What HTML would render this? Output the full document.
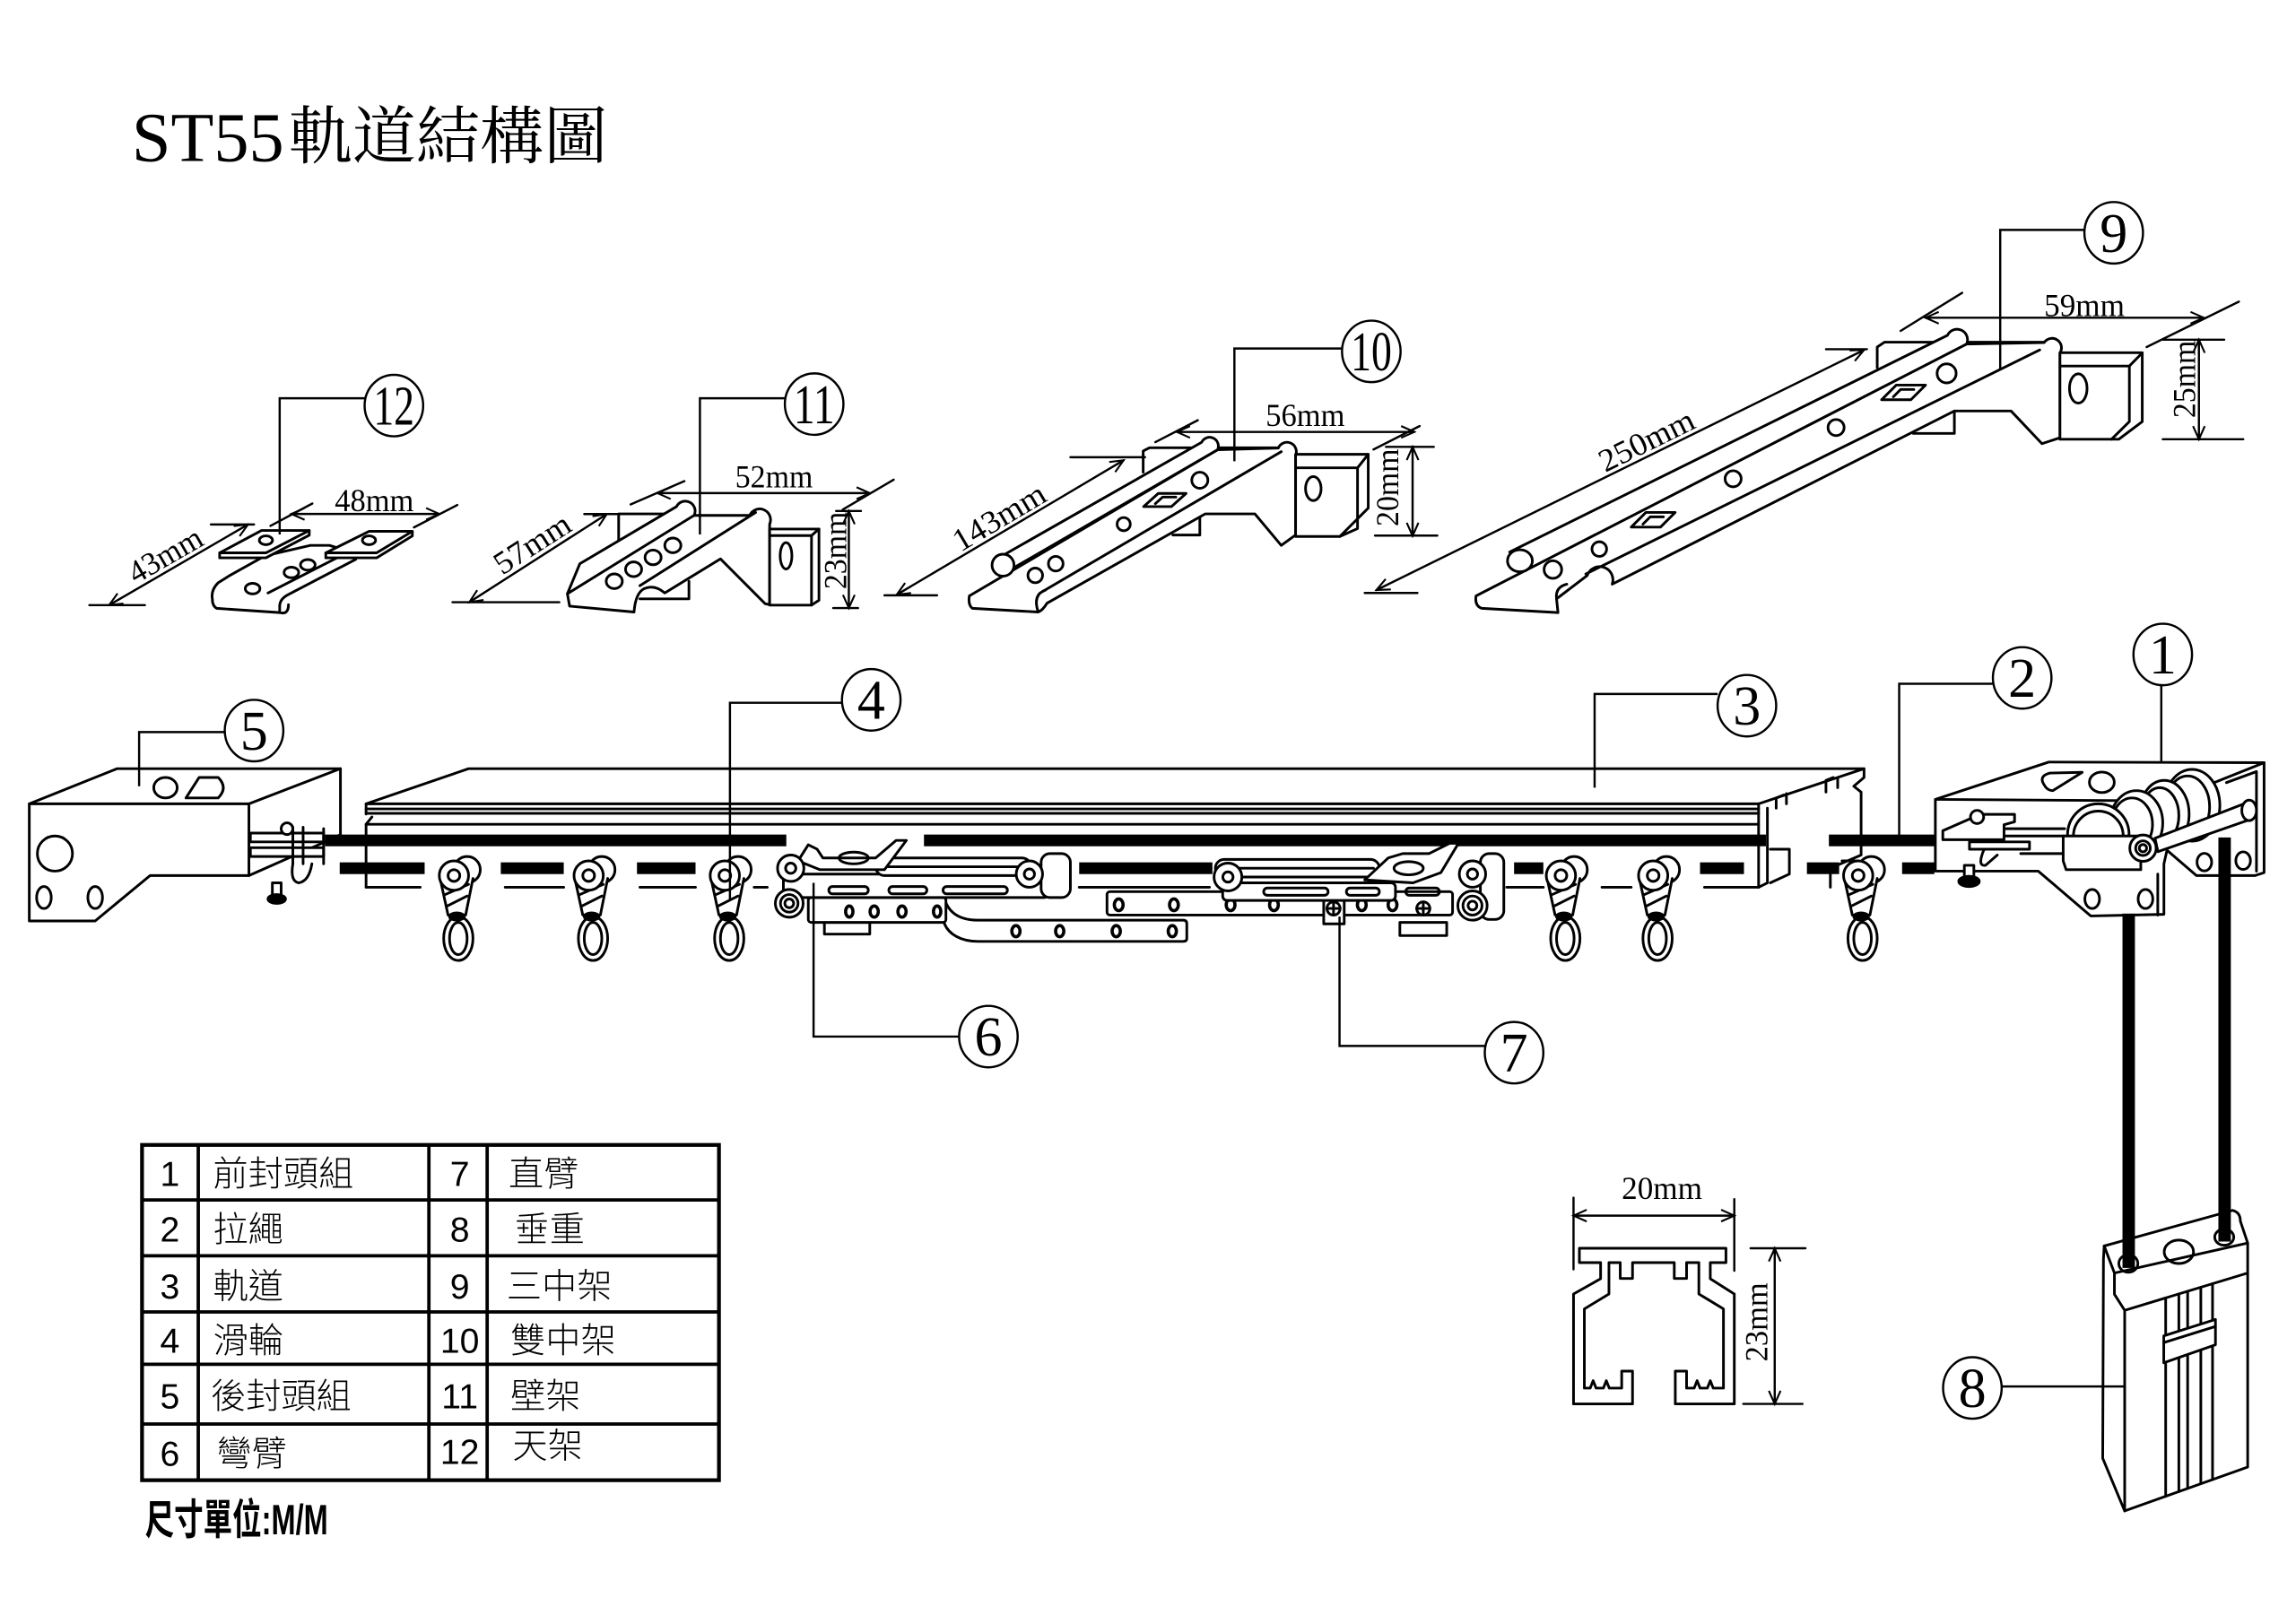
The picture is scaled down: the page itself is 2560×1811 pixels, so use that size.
<!DOCTYPE html>
<html><head><meta charset="utf-8"><title>ST55軌道結構圖</title>
<style>html,body{margin:0;padding:0;background:#fff}svg{display:block}</style>
</head><body>
<svg xmlns="http://www.w3.org/2000/svg" width="2560" height="1811" viewBox="0 0 1568 1109.2">
<defs>
<marker id="a" markerWidth="12" markerHeight="10" refX="10" refY="5" orient="auto-start-reverse" markerUnits="userSpaceOnUse"><path d="M1,1 L10,5 L1,9" fill="none" stroke="#000" stroke-width="1.3"/></marker>
</defs>
<rect width="1568" height="1109.2" fill="#fff"/>

<!-- Title -->
<g font-family="'Liberation Serif','Noto Serif CJK SC',serif" fill="#000">
<text x="90" y="110" font-size="48">ST55</text>
<text x="197" y="108" font-size="43" textLength="218" lengthAdjust="spacingAndGlyphs">軌道結構圖</text>
</g>

<g fill="none" stroke="#000" stroke-width="1.8" stroke-linejoin="round" stroke-linecap="round">

<!-- ===== Bracket 12 ===== -->
<path d="M145,409 Q144,403 149,398 L157,393 L181,379.6 L212,372.5 L225,372.5 L243,378 L243,382 L197,406 Q191,409 191,414 L191,418.4 L148,415.5 Q145,414 145,409 Z" fill="#fff"/>
<path d="M183,405 L238,377"/>
<path d="M191,418.4 Q197,420 197,413"/>
<ellipse cx="172.5" cy="402" rx="5" ry="3.6"/>
<ellipse cx="199" cy="391" rx="5" ry="3.6"/>
<ellipse cx="210.2" cy="385.8" rx="5" ry="3.6"/>
<path d="M150,377.6 L178.6,362.3 L211.2,362.3 L211.2,365.5 L181.6,381 L150,381 Z" fill="#fff"/>
<path d="M150,377.6 H181.6 L211.2,362.3"/>
<path d="M222.5,377.6 L252,362.9 L281.6,362.9 L281.6,366 L257.2,381 L222.5,381 Z" fill="#fff"/>
<path d="M222.5,377.6 H257.2 L281.6,362.9"/>
<ellipse cx="181.6" cy="369" rx="4.5" ry="3"/>
<ellipse cx="252" cy="369" rx="4.5" ry="3"/>

<!-- ===== Bracket 11 ===== -->
<path d="M422.5,369 V351 H457"/>
<path d="M437,409 H470.5 V397"/>
<path d="M396,385 L462,346 A6,6 0 0 1 474,352 L512,352 A6,6 0 0 1 525.6,358 V413 L522.5,412.3 L492,381.7 L454,405 Q447,399 440,402 Q434,405 433,418 L389,414 L387.5,405.5 Z" fill="#fff"/>
<path d="M387.5,405.5 L474,352"/>
<path d="M437,400 L516,350"/>
<ellipse cx="419.5" cy="397" rx="5.5" ry="5"/>
<ellipse cx="432.7" cy="388.8" rx="5.5" ry="5"/>
<ellipse cx="446" cy="380.7" rx="5.5" ry="5"/>
<ellipse cx="459.5" cy="372.5" rx="5.5" ry="5"/>
<path d="M525.6,361.3 H559.3 V410 L554.2,413.3 H525.6 Z" fill="#fff"/>
<path d="M525.6,365.8 H554.2 L559.3,361.3 M554.2,365.8 V413.3"/>
<ellipse cx="536.8" cy="379.6" rx="4" ry="9"/>

<!-- ===== Bracket 10 ===== -->
<path d="M780.7,322.5 V308 L785,305.8 H873"/>
<path d="M801,365.4 H819.4 V352"/>
<path d="M662,407 L831.5,307.2 L873,306 A6,6 0 0 1 884.8,311 V365.4 L875,372.5 L857,351 L823,351 L715,412 Q712,417 709,418 L664,415.5 Q661,413 662,407 Z" fill="#fff"/>
<path d="M712,404 L875,308.5"/>
<path d="M709,418 Q705,406 714,403"/>
<circle cx="707" cy="393" r="5"/>
<circle cx="721" cy="385" r="5"/>
<circle cx="767.4" cy="358" r="4.5"/>
<circle cx="819.4" cy="328" r="5.5"/>
<path d="M781,346 L791,337 L810,337 L800,346 Z"/>
<path d="M789,344 L794,339.5 L803,339.5"/>
<path d="M679,382.7 L820.6,302.1 A6,6 0 0 1 831.5,307.2 L692.3,387.8 Z" fill="#fff"/>
<circle cx="685" cy="386" r="7.5" fill="#fff"/>
<path d="M884.8,310.3 H934.4 V347 L915,366.4 H884.8 Z" fill="#fff"/>
<path d="M884.8,319.5 H927.1 L934.4,310.3 M927.1,319.5 V361 L915,366.4"/>
<ellipse cx="896.9" cy="333.7" rx="5.3" ry="8.2"/>

<!-- ===== Bracket 9 ===== -->
<path d="M1282,251 V237 L1287,233.7 H1396"/>
<path d="M1306.6,283 V296 H1334.7 V281"/>
<path d="M1008,407 L1343,235 L1396,234 A6,6 0 0 1 1406.8,241 V299 L1394.5,303 L1373.4,280.7 L1334.7,280.7 L1101,399 A9,9 0 0 0 1084,393 L1063,409 L1064,418.4 L1012,415.5 Q1007,414 1008,407 Z" fill="#fff"/>
<path d="M1083,392 L1393,239"/>
<path d="M1063,409 Q1062,401 1070,399"/>
<circle cx="1060.5" cy="389" r="6"/>
<circle cx="1092.2" cy="375" r="5"/>
<circle cx="1183.6" cy="327" r="5.5"/>
<circle cx="1253.9" cy="292" r="5.5"/>
<circle cx="1329.4" cy="255" r="6.5"/>
<path d="M1114,360 L1124,350 L1144,350 L1134,360 Z"/>
<path d="M1122,358 L1127,353 L1136,353"/>
<path d="M1285,273 L1295,263 L1315,263 L1305,273 Z"/>
<path d="M1293,271 L1298,266 L1307,266"/>
<path d="M1031,377 L1330,229 A7,7 0 0 1 1343,235 L1045,388 Z" fill="#fff"/>
<ellipse cx="1038" cy="383" rx="8.5" ry="7.5" fill="#fff"/>
<path d="M1406.8,240.9 H1463 V288 L1447,300 H1406.8 Z" fill="#fff"/>
<path d="M1406.8,250 H1454.2 L1463,241 M1454.2,250 V288 L1442,300"/>
<ellipse cx="1419.3" cy="265.3" rx="6" ry="10"/>

<!-- ===== Left end cap 5 ===== -->
<path d="M20,549 L80,525 L232.5,525 L232.5,570 L222,575 L170,598 L102.5,598 L65,629 L20,629 Z" fill="#fff"/>
<path d="M20,549 H170 V598 M170,549 L232.5,525"/>
<ellipse cx="37.5" cy="583" rx="12" ry="12"/>
<ellipse cx="30" cy="613" rx="5" ry="7.5"/>
<ellipse cx="65" cy="613" rx="5" ry="7.5"/>
<ellipse cx="113" cy="538" rx="8" ry="7"/>
<path d="M127,545 L136,531 L149,531 Q156,538 149,545 Z"/>
<!-- clip -->
<rect x="171" y="569" width="50" height="6" fill="#fff"/>
<rect x="171" y="579" width="50" height="6" fill="#fff"/>
<path d="M200,565 V590 M207,565 V590 M221,566 V590"/>
<circle cx="196" cy="566" r="4" fill="#fff"/>
<path d="M200,590 Q198,602 204,603 Q211,602 213,590"/>
<rect x="186" y="603" width="6" height="9" fill="#fff"/>
<ellipse cx="189" cy="614" rx="6" ry="3" fill="#000"/>

<!-- ===== Rail 3 ===== -->
<path d="M250,549 L320,525 L1273,525 L1201,549 Z" fill="#fff"/>
<path d="M250,552.5 H1201 M250,555.5 H1201 M250,563 H1201"/>
<path d="M250,549 V556 M254,558 L250,563 V606 M1201,549 V606"/>
<path d="M250,606 H287 M345,606 H385 M437,606 H475 M515,606 H524 M737,606 H826 M1029,606 H1054 M1094,606 H1114 M1164,606 H1201"/>
<path d="M1273,525 V531 L1266,537 L1271,541 V584 L1250,593 V606 M1201,606 L1207,603 V552 M1209,580 H1222 V597 L1209,603 M1213,552 V545 L1218,543 M1220,549 V542 M1247,541 V533 L1252,531 M1255,538 V531 M1258,588 H1268"/>
</g>

<!-- cord bars -->
<g fill="#000">
<rect x="222" y="570" width="315" height="8"/>
<rect x="631" y="570" width="575" height="8"/>
<rect x="1249" y="570" width="72" height="8"/>
<rect x="232" y="589" width="58" height="8"/>
<rect x="342" y="589" width="43" height="8"/>
<rect x="435" y="589" width="40" height="8"/>
<rect x="737" y="589" width="91" height="8"/>
<rect x="1034" y="589" width="20" height="8"/>
<rect x="1161" y="589" width="30" height="8"/>
<rect x="1234" y="589" width="22" height="8"/>
<rect x="1299" y="589" width="22" height="8"/>
</g>

<g fill="none" stroke="#000" stroke-width="1.8" stroke-linejoin="round" stroke-linecap="round">
<!-- gliders -->
<g transform="translate(310,598)"><circle cx="9" cy="-4" r="9" fill="#fff"/><path d="M-9,4 L-4,27 L8,27 L13,2" fill="#fff"/><path d="M-6,13 L10,6 M-5,21 L9,14"/><ellipse cx="3" cy="43" rx="10" ry="15" fill="#fff"/><ellipse cx="3" cy="43" rx="6" ry="11"/><ellipse cx="2" cy="28" rx="5" ry="2.5" fill="#000"/><circle r="10" fill="#fff"/><circle r="4"/></g>
<g transform="translate(402,598)"><circle cx="9" cy="-4" r="9" fill="#fff"/><path d="M-9,4 L-4,27 L8,27 L13,2" fill="#fff"/><path d="M-6,13 L10,6 M-5,21 L9,14"/><ellipse cx="3" cy="43" rx="10" ry="15" fill="#fff"/><ellipse cx="3" cy="43" rx="6" ry="11"/><ellipse cx="2" cy="28" rx="5" ry="2.5" fill="#000"/><circle r="10" fill="#fff"/><circle r="4"/></g>
<g transform="translate(495,598)"><circle cx="9" cy="-4" r="9" fill="#fff"/><path d="M-9,4 L-4,27 L8,27 L13,2" fill="#fff"/><path d="M-6,13 L10,6 M-5,21 L9,14"/><ellipse cx="3" cy="43" rx="10" ry="15" fill="#fff"/><ellipse cx="3" cy="43" rx="6" ry="11"/><ellipse cx="2" cy="28" rx="5" ry="2.5" fill="#000"/><circle r="10" fill="#fff"/><circle r="4"/></g>
<g transform="translate(1066,598)"><circle cx="9" cy="-4" r="9" fill="#fff"/><path d="M-9,4 L-4,27 L8,27 L13,2" fill="#fff"/><path d="M-6,13 L10,6 M-5,21 L9,14"/><ellipse cx="3" cy="43" rx="10" ry="15" fill="#fff"/><ellipse cx="3" cy="43" rx="6" ry="11"/><ellipse cx="2" cy="28" rx="5" ry="2.5" fill="#000"/><circle r="10" fill="#fff"/><circle r="4"/></g>
<g transform="translate(1129,598)"><circle cx="9" cy="-4" r="9" fill="#fff"/><path d="M-9,4 L-4,27 L8,27 L13,2" fill="#fff"/><path d="M-6,13 L10,6 M-5,21 L9,14"/><ellipse cx="3" cy="43" rx="10" ry="15" fill="#fff"/><ellipse cx="3" cy="43" rx="6" ry="11"/><ellipse cx="2" cy="28" rx="5" ry="2.5" fill="#000"/><circle r="10" fill="#fff"/><circle r="4"/></g>
<g transform="translate(1269,598)"><circle cx="9" cy="-4" r="9" fill="#fff"/><path d="M-9,4 L-4,27 L8,27 L13,2" fill="#fff"/><path d="M-6,13 L10,6 M-5,21 L9,14"/><ellipse cx="3" cy="43" rx="10" ry="15" fill="#fff"/><ellipse cx="3" cy="43" rx="6" ry="11"/><ellipse cx="2" cy="28" rx="5" ry="2.5" fill="#000"/><circle r="10" fill="#fff"/><circle r="4"/></g>

<!-- ===== Bent arm 6 ===== -->
<rect x="563" y="630" width="31" height="8" fill="#fff"/>
<path d="M645,614 C648,624 656,628.5 668,628.5 L808,628.5 Q810.5,628.5 810.5,631 L810.5,641 Q810.5,643 808,643 L668,643 C656,643 648,638 645,631 Z" fill="#fff"/>
<ellipse cx="693.8" cy="636" rx="2.8" ry="3.8" stroke-width="2.2"/>
<ellipse cx="723.7" cy="636" rx="2.8" ry="3.8" stroke-width="2.2"/>
<ellipse cx="762.3" cy="636" rx="2.8" ry="3.8" stroke-width="2.2"/>
<ellipse cx="800.6" cy="636" rx="2.8" ry="3.8" stroke-width="2.2"/>
<rect x="552" y="613" width="94" height="17" rx="2" fill="#fff"/>
<ellipse cx="580" cy="622.6" rx="2.5" ry="3.8" stroke-width="2.2"/>
<ellipse cx="597" cy="622.6" rx="2.8" ry="3.8" stroke-width="2.2"/>
<ellipse cx="616" cy="622.6" rx="2.8" ry="3.8" stroke-width="2.2"/>
<ellipse cx="640" cy="622.6" rx="2.5" ry="3.8" stroke-width="2.2"/>
<rect x="535" y="597" width="181" height="16" rx="3" fill="#fff"/>
<rect x="566" y="605.5" width="27" height="5" rx="2.5"/>
<rect x="607" y="605.5" width="26" height="5" rx="2.5"/>
<rect x="644" y="605.5" width="44" height="5" rx="2.5"/>
<rect x="598" y="586" width="106" height="12" rx="6" fill="#fff"/>
<path d="M602,592 H700"/>
<rect x="711" y="583" width="20" height="30" rx="6" fill="#fff"/>
<circle cx="703" cy="597" r="9" fill="#fff"/><circle cx="703" cy="597" r="3.5"/>
<path d="M545,588 L552,577 L558,580 L562,586 L598,586 L612,574 L619,574 L604,594 L560,594 Z" fill="#fff"/>
<ellipse cx="583" cy="586" rx="10" ry="4"/>
<circle cx="540" cy="593" r="9" fill="#fff"/><circle cx="540" cy="593" r="3.5"/>
<circle cx="539" cy="617" r="9.5" fill="#fff"/><circle cx="539" cy="617" r="6"/><circle cx="539" cy="617" r="3"/>

<!-- ===== Straight arm 7 ===== -->
<rect x="956" y="630" width="32" height="9" fill="#fff"/>
<rect x="756" y="609" width="236" height="16" rx="2" fill="#fff"/>
<ellipse cx="764" cy="618" rx="3" ry="4" stroke-width="2.2"/>
<ellipse cx="801.7" cy="618" rx="3" ry="4" stroke-width="2.2"/>
<ellipse cx="840.4" cy="618" rx="3" ry="4" stroke-width="2.2"/>
<ellipse cx="870" cy="618" rx="3" ry="4" stroke-width="2.2"/>
<ellipse cx="930" cy="618" rx="3" ry="4" stroke-width="2.2"/>
<ellipse cx="951" cy="618" rx="3" ry="4" stroke-width="2.2"/>
<rect x="904" y="612" width="14" height="19" fill="#fff"/>
<circle cx="910.7" cy="620.5" r="4.5"/><path d="M906.2,620.5 H915.2 M910.7,616 V625"/>
<circle cx="972" cy="620.5" r="4.5"/><path d="M967.5,620.5 H976.5 M972,616 V625"/>
<rect x="835" y="603" width="118" height="12" rx="3" fill="#fff"/>
<rect x="863" y="606.5" width="44" height="5" rx="2.5"/>
<rect x="919.5" y="606.5" width="22.5" height="5" rx="2.5"/>
<rect x="960" y="606.5" width="23" height="5" rx="2.5"/>
<rect x="830" y="587" width="112" height="12" rx="6" fill="#fff"/>
<path d="M836,593 H938"/>
<circle cx="838.6" cy="599" r="9.5" fill="#fff"/><circle cx="838.6" cy="599" r="3.5"/>
<path d="M932,601 L948,586 L958,583 L976,583 L990,576 L996,576 L984,596 L965,603 Z" fill="#fff"/>
<ellipse cx="962" cy="593" rx="10" ry="4.5"/>
<rect x="1011" y="583" width="16" height="45" rx="6" fill="#fff"/>
<circle cx="1005.6" cy="597" r="9" fill="#fff"/><circle cx="1005.6" cy="597" r="3.5"/>
<circle cx="1005.6" cy="618.5" r="10" fill="#fff"/><circle cx="1005.6" cy="618.5" r="6.5"/><circle cx="1005.6" cy="618.5" r="3"/>

<!-- ===== Right end cap 1 ===== -->
<path d="M1321.7,546 L1399.2,520.5 L1546.2,520.9 V596 L1540,598 H1500 L1479.9,580.7 L1477.8,590 V624.5 L1427.8,625.6 L1392,595 H1321.7 Z" fill="#fff"/>
<path d="M1321.7,546 L1476,547 M1546.2,520.9 L1511.5,534.8 M1520.5,534.5 L1541,527 V595 M1473.6,597 V625"/>
<ellipse cx="1428.8" cy="614" rx="5" ry="6.5"/>
<ellipse cx="1465.2" cy="614" rx="5" ry="6.5"/>
<ellipse cx="1505.4" cy="588.8" rx="5" ry="6"/>
<ellipse cx="1531.9" cy="587.8" rx="5" ry="6"/>
<path d="M1396,536 Q1392,530 1400,528 L1422,527.5 L1402,540 Q1398,540 1396,536 Z"/>
<ellipse cx="1435.4" cy="534.3" rx="8.5" ry="7"/>
<!-- pulleys -->
<ellipse cx="1497" cy="550" rx="19" ry="24.5" fill="#fff"/><ellipse cx="1494" cy="551" rx="15" ry="21"/>
<ellipse cx="1478" cy="556" rx="17" ry="23" fill="#fff"/><ellipse cx="1475" cy="557" rx="13" ry="19"/>
<ellipse cx="1459" cy="562" rx="18" ry="22" fill="#fff"/><ellipse cx="1456" cy="563" rx="14" ry="18"/>
<ellipse cx="1433" cy="570" rx="21" ry="21" fill="#fff"/><ellipse cx="1433" cy="571" rx="17" ry="17"/>
<path d="M1409,571 H1462 V594 H1411 L1409,588 Z" fill="#fff"/>
<path d="M1471.7,572.5 L1535,548 L1538,559.3 L1473.7,581.7 Z" fill="#fff"/>
<ellipse cx="1536" cy="553.5" rx="5" ry="7" fill="#fff"/>
<circle cx="1463.5" cy="579.3" r="9" fill="#fff"/><circle cx="1463.5" cy="579.3" r="5"/><circle cx="1463.5" cy="579.3" r="2.5"/>
<!-- clip -->
<path d="M1326.8,567.4 L1352.3,556.2 H1375.8 V561.3 L1368.6,563.3 V573.5 H1326.8 Z" fill="#fff"/>
<circle cx="1350.2" cy="558" r="4.5" fill="#fff"/>
<path d="M1368.6,566 H1410 M1368.6,571 H1410"/>
<path d="M1345,575 H1386 V580 H1345 Z" fill="#fff"/>
<path d="M1380,583 H1409 M1355,580 Q1350,592 1356,591 L1364,584"/>
<rect x="1341.5" y="591" width="6.5" height="9" fill="#fff"/>
<ellipse cx="1344.7" cy="602" rx="7" ry="3.5" fill="#000"/>

<!-- ===== Weight 8 ===== -->
<path d="M1437,851 L1524.7,826.7 Q1530,828 1530,834 L1535,849 V1002 L1451,1032 L1436,996 L1436.5,860 Z" fill="#fff"/>
<path d="M1444,869.5 L1535,849 M1451,895 L1535,869.5 M1437,851 L1444,869.5 V884 L1451,895 M1451,895 V1032"/>
<path d="M1479,886.5 V1022 M1488,883.8 V1018.8 M1494,882 V1016.6 M1503,879.2 V1013.4 M1511,876.8 V1010.6"/>
<path d="M1477.7,912.4 L1513,901.2 V918.5 L1477.7,930.8 Z" fill="#fff"/>
<path d="M1477.7,917 L1513,906"/>
<ellipse cx="1453.5" cy="863" rx="6.5" ry="6"/>
<ellipse cx="1488" cy="855" rx="10" ry="8"/>
<ellipse cx="1519" cy="845" rx="6.5" ry="5.5"/>
</g>
<g fill="#000">
<rect x="1449.5" y="624" width="8.5" height="242"/>
<rect x="1515" y="572" width="8.5" height="276"/>
</g>

<!-- ===== Cross-section ===== -->
<g fill="none" stroke="#000" stroke-width="1.8" stroke-linejoin="round">
<path d="M1078.6,852.6 H1178.7 V862.4 H1168 V873.4 L1184.4,883.8 V958.9 H1144.1 V936.5 H1151.8 V948.1 H1157 L1159,943 L1161,948.1 H1166 L1168,943 L1170,948.1 H1177 V894 L1160.2,883.8 V862.4 H1151.8 V873.2 H1143.4 V862.4 H1114.9 V873.2 H1106.5 V862.4 H1098.8 V883.8 L1082,894 V948.1 H1086 L1088,943 L1090,948.1 H1095 L1097,943 L1099,948.1 H1107.5 V936.5 H1114.9 V958.9 H1074.6 V883.8 L1093.1,873.4 V862.4 H1078.6 Z"/>
</g>

<!-- ===== Dimensions ===== -->
<g fill="none" stroke="#000" stroke-width="1.5" stroke-linecap="round">
<line x1="74.5" y1="413.3" x2="169.4" y2="358.2" marker-start="url(#a)" marker-end="url(#a)"/>
<path d="M61,413.3 H99 M144,358.2 H173.5"/>
<line x1="199" y1="351" x2="300" y2="351" marker-start="url(#a)" marker-end="url(#a)"/>
<path d="M184.7,359.2 L213.3,343.9 M282.7,360.2 L312.3,344.9"/>
<line x1="320.5" y1="411.3" x2="414.4" y2="351.1" marker-start="url(#a)" marker-end="url(#a)"/>
<path d="M309,411.3 H382 M399,351.1 H421.5"/>
<line x1="449" y1="336.8" x2="594" y2="336.8" marker-start="url(#a)" marker-end="url(#a)"/>
<path d="M430.7,344.5 L467.4,328.6 M575.6,348 L610.3,327.6"/>
<line x1="579.7" y1="349" x2="579.7" y2="415.3" marker-start="url(#a)" marker-end="url(#a)"/>
<path d="M571,349 H588 M569,415.3 H586"/>
<line x1="612.4" y1="406.2" x2="767.3" y2="314.4" marker-start="url(#a)" marker-end="url(#a)"/>
<path d="M604,406.6 H640 M731,312.3 H782"/>
<line x1="803.7" y1="295" x2="965.9" y2="295" marker-start="url(#a)" marker-end="url(#a)"/>
<path d="M789,302 L818,287 M938,307 L969.5,291"/>
<line x1="964.7" y1="305.2" x2="964.7" y2="366" marker-start="url(#a)" marker-end="url(#a)"/>
<path d="M946.5,305.2 H979.2 M939,365.8 H981.6"/>
<line x1="940" y1="403" x2="1273" y2="239" marker-start="url(#a)" marker-end="url(#a)"/>
<path d="M932,405 H968 M1247,238.5 H1275"/>
<line x1="1315" y1="217" x2="1505" y2="217" marker-start="url(#a)" marker-end="url(#a)"/>
<path d="M1298,226 L1340,200 M1466,237 L1529,206"/>
<line x1="1501.7" y1="232" x2="1501.7" y2="300" marker-start="url(#a)" marker-end="url(#a)"/>
<path d="M1477,232 H1519 M1477,300 H1532"/>
<line x1="1074.6" y1="830.3" x2="1184.4" y2="830.3" marker-start="url(#a)" marker-end="url(#a)"/>
<path d="M1074.6,818 V867 M1184.4,819 V868"/>
<line x1="1212" y1="852.6" x2="1212" y2="958.9" marker-start="url(#a)" marker-end="url(#a)"/>
<path d="M1195.5,852.6 H1233 M1190.5,958.9 H1231"/>
</g>

<g font-family="'Liberation Serif',serif" font-size="22" fill="#000" text-anchor="middle">
<text x="255.6" y="349" textLength="54" lengthAdjust="spacingAndGlyphs">48mm</text>
<text transform="translate(118,388) rotate(-30)" y="-3" textLength="55" lengthAdjust="spacingAndGlyphs">43mm</text>
<text x="528.6" y="333" textLength="53" lengthAdjust="spacingAndGlyphs">52mm</text>
<text transform="translate(369,380) rotate(-32.7)" y="-3" textLength="58" lengthAdjust="spacingAndGlyphs">57mm</text>
<text transform="translate(578,376) rotate(-90)" textLength="53" lengthAdjust="spacingAndGlyphs">23mm</text>
<text x="891.4" y="291" textLength="54" lengthAdjust="spacingAndGlyphs">56mm</text>
<text transform="translate(687.5,362) rotate(-30.7)" y="-3" textLength="70" lengthAdjust="spacingAndGlyphs">143mm</text>
<text transform="translate(955,333) rotate(-90)" textLength="53" lengthAdjust="spacingAndGlyphs">20mm</text>
<text x="1423.5" y="216" textLength="55" lengthAdjust="spacingAndGlyphs">59mm</text>
<text transform="translate(1129,310) rotate(-26.3)" y="-3" textLength="70" lengthAdjust="spacingAndGlyphs">250mm</text>
<text transform="translate(1499,259) rotate(-90)" textLength="53" lengthAdjust="spacingAndGlyphs">25mm</text>
<text x="1135" y="819" textLength="55" lengthAdjust="spacingAndGlyphs">20mm</text>
<text transform="translate(1207,903) rotate(-90)" textLength="54" lengthAdjust="spacingAndGlyphs">23mm</text>
</g>

<!-- ===== Leaders ===== -->
<g fill="none" stroke="#000" stroke-width="1.5">
<polyline points="249,272 191,272 191,365"/>
<polyline points="536,272 478,272 478,365"/>
<polyline points="916,238 843,238 843,315"/>
<polyline points="1423,157 1366,157 1366,252"/>
<polyline points="153,500 95,500 95,537"/>
<polyline points="575,480 498.5,480 498.5,615"/>
<polyline points="1173,474 1089,474 1089,538"/>
<polyline points="1361,467 1297,467 1297,572"/>
<line x1="1476" y1="468" x2="1476" y2="521"/>
<polyline points="555.6,603 555.6,708 655,708"/>
<polyline points="914.8,626 914.8,714.4 1014,714.4"/>
<line x1="1367" y1="947" x2="1451" y2="947"/>
</g>
<g fill="#fff" stroke="#000" stroke-width="1.5">
<ellipse cx="1477" cy="447" rx="20" ry="21"/>
<ellipse cx="1381" cy="463" rx="20" ry="21"/>
<ellipse cx="1193" cy="482" rx="20" ry="21"/>
<ellipse cx="595" cy="478" rx="20" ry="21"/>
<ellipse cx="173.5" cy="499" rx="20" ry="21"/>
<ellipse cx="675" cy="708" rx="20" ry="21"/>
<ellipse cx="1034" cy="719" rx="20" ry="21"/>
<ellipse cx="1347" cy="948" rx="20" ry="21"/>
<ellipse cx="1443.5" cy="159" rx="20" ry="21"/>
<ellipse cx="936.5" cy="240" rx="20" ry="21"/>
<ellipse cx="556" cy="276" rx="20" ry="21"/>
<ellipse cx="269" cy="277" rx="20" ry="21"/>
</g>
<g font-family="'Liberation Serif',serif" font-size="38" fill="#000" text-anchor="middle">
<text x="1477" y="460">1</text>
<text x="1381" y="476">2</text>
<text x="1193" y="495">3</text>
<text x="595" y="491">4</text>
<text x="173.5" y="512">5</text>
<text x="675" y="721">6</text>
<text x="1034" y="732">7</text>
<text x="1347" y="961">8</text>
<text x="1443.5" y="172">9</text>
<text x="936.5" y="253" textLength="28" lengthAdjust="spacingAndGlyphs">10</text>
<text x="556" y="289" textLength="28" lengthAdjust="spacingAndGlyphs">11</text>
<text x="269" y="290" textLength="28" lengthAdjust="spacingAndGlyphs">12</text>
</g>

<!-- ===== Table ===== -->
<g fill="none" stroke="#000">
<rect x="97" y="782" width="394" height="229" stroke-width="2.6"/>
<path d="M135.4,782 V1011 M292.9,782 V1011 M332.7,782 V1011 M97,819.6 H491 M97,857.7 H491 M97,896.1 H491 M97,931.8 H491 M97,972.6 H491" stroke-width="2.3"/>
</g>
<g font-family="'Liberation Sans','Noto Sans CJK TC',sans-serif" font-size="24" fill="#000" font-weight="300">
<g text-anchor="middle">
<text x="116" y="810">1</text>
<text x="116" y="848">2</text>
<text x="116" y="887">3</text>
<text x="116" y="924">4</text>
<text x="116" y="962">5</text>
<text x="116" y="1001">6</text>
<text x="314" y="810">7</text>
<text x="314" y="848">8</text>
<text x="314" y="887">9</text>
<text x="314" y="924">10</text>
<text x="314" y="962">11</text>
<text x="314" y="1000">12</text>
</g>
<text x="145.5" y="810">前封頭組</text>
<text x="145.5" y="848">拉繩</text>
<text x="145.5" y="887">軌道</text>
<text x="145.5" y="924">滑輪</text>
<text x="144" y="962">後封頭組</text>
<text x="148" y="1001">彎臂</text>
<text x="347.3" y="810">直臂</text>
<text x="351.3" y="848">垂重</text>
<text x="346" y="887">三中架</text>
<text x="348.6" y="924">雙中架</text>
<text x="348.6" y="962">壁架</text>
<text x="350" y="996">天架</text>
</g>
<text x="99" y="1048" font-family="'Liberation Sans','Noto Sans CJK TC',sans-serif" font-size="29" font-weight="bold" fill="#000" textLength="125" lengthAdjust="spacingAndGlyphs">尺寸單位:M/M</text>
</svg>
</body></html>
